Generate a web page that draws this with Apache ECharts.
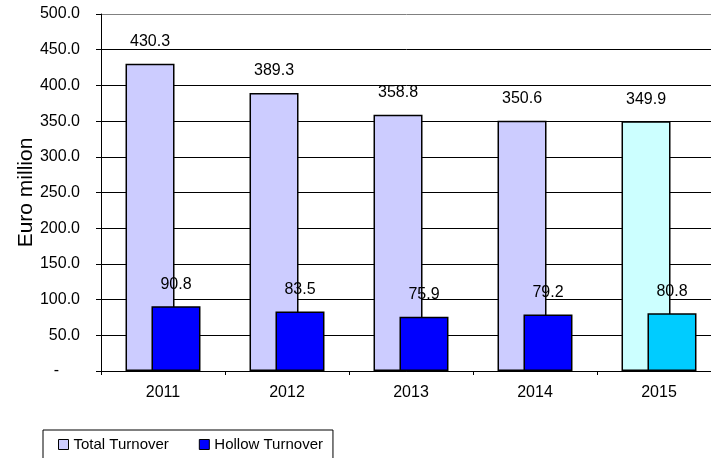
<!DOCTYPE html>
<html><head><meta charset="utf-8">
<script src="https://cdn.jsdelivr.net/npm/echarts@6/dist/echarts.min.js"></script>
<style>html,body{margin:0;padding:0;background:#fff}#c{width:711px;height:458px}</style>
</head><body><div id="c"></div>
<script>
const categories = ['2011', '2012', '2013', '2014', '2015'];
const totalTurnover = [430.3, 389.3, 358.8, 350.6, 349.9];
const hollowTurnover = [90.8, 83.5, 75.9, 79.2, 80.8];
const seriesNames = ['Total Turnover', 'Hollow Turnover'];
const yAxisName = 'Euro million';

const FONT = 'Liberation Sans, Arial, sans-serif';
const lblStyle = {show: true, position: 'top', distance: 14, color: '#000', fontFamily: FONT, fontSize: 16,
  formatter: p => p.value.toFixed(1)};

const totalData = totalTurnover.map((v, i) => i === 4 ? {value: v, itemStyle: {color: '#CCFFFF'}} : v);
const hollowData = hollowTurnover.map((v, i) => i === 4 ? {value: v, itemStyle: {color: '#00CCFF'}} : v);

const splitColors = [];
for (let i = 0; i < 10; i++) splitColors.push('#000');
splitColors.push('#808080');

const chart = echarts.init(document.getElementById('c'));
chart.setOption({
  animation: false,
  backgroundColor: '#fff',
  grid: {left: 101, top: 14, width: 620, height: 357, outerBoundsMode: 'none', containLabel: false},
  legend: {
    left: 43, top: 430, orient: 'horizontal',
    data: seriesNames,
    icon: 'rect', itemWidth: 10, itemHeight: 10, itemGap: 30,
    borderColor: '#000', borderWidth: 1, padding: [7, 10, 30, 15],
    textStyle: {fontFamily: FONT, fontSize: 15, color: '#000'},
    itemStyle: {borderColor: '#000', borderWidth: 1}
  },
  xAxis: {
    type: 'category', data: categories,
    axisLine: {lineStyle: {color: '#000', width: 1}},
    axisTick: {show: true, length: 4, lineStyle: {color: '#000'}},
    axisLabel: {margin: 14, color: '#000', fontFamily: FONT, fontSize: 16}
  },
  yAxis: {
    type: 'value', min: 0, max: 500, interval: 50,
    name: yAxisName, nameLocation: 'middle', nameGap: 64, nameMoveOverlap: false,
    nameTextStyle: {fontFamily: FONT, fontSize: 21, color: '#000'},
    axisLine: {show: true, lineStyle: {color: '#000', width: 1}},
    axisTick: {show: true, length: 5, lineStyle: {color: '#000'}},
    axisLabel: {margin: 21, color: '#000', fontFamily: FONT, fontSize: 16,
      formatter: v => v === 0 ? '{d|-}' : v.toFixed(1),
      rich: {d: {padding: [0, 21, 0, 0], fontFamily: FONT, fontSize: 16, color: '#000'}}},
    splitLine: {show: true, lineStyle: {color: splitColors, width: 1}}
  },
  series: [
    {name: seriesNames[0], type: 'bar', data: totalData, barWidth: 49, barGap: '-47%',
     itemStyle: {color: '#CCCCFF', borderColor: '#000', borderWidth: 1.5},
     label: lblStyle},
    {name: seriesNames[1], type: 'bar', data: hollowData, barWidth: 49,
     itemStyle: {color: '#0000FF', borderColor: '#000', borderWidth: 1.5},
     label: lblStyle}
  ]
});
</script></body></html>
